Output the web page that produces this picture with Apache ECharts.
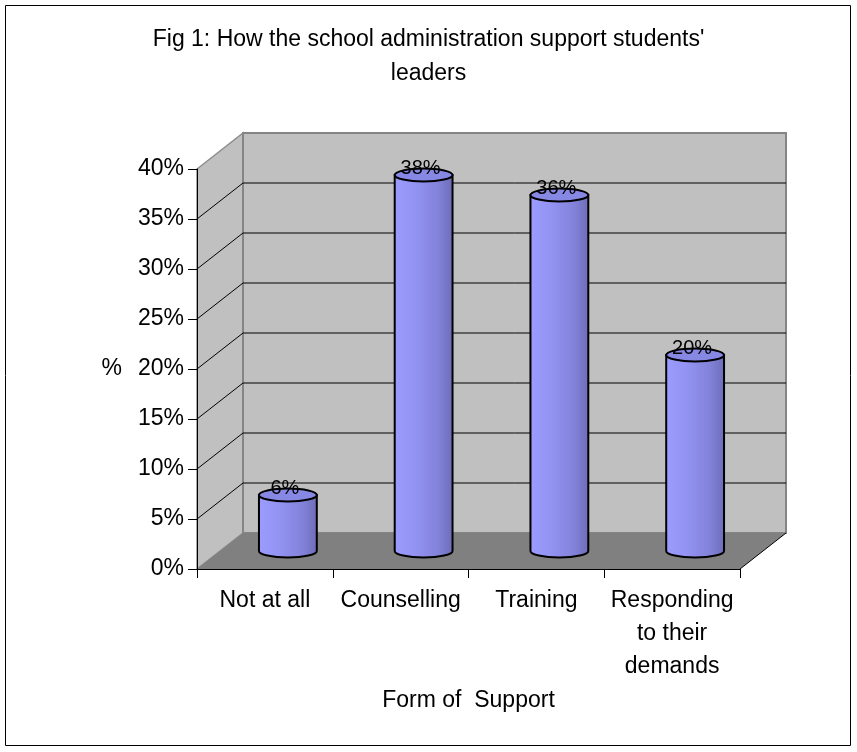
<!DOCTYPE html>
<html><head><meta charset="utf-8">
<script src="https://cdn.jsdelivr.net/npm/echarts@6/dist/echarts.min.js"></script>
<style>html,body{margin:0;padding:0;background:#fff}#c{width:857px;height:752px}</style>
</head><body><div id="c"></div>
<script>
// ---- data ----
const titleText = "Fig 1: How the school administration support students'\nleaders";
const categories = ['Not at all', 'Counselling', 'Training', 'Responding\nto their\ndemands'];
const values = [6, 38, 36, 20];
const yTicks = [0, 5, 10, 15, 20, 25, 30, 35, 40];
const xName = 'Form of  Support';
const yName = '%';

// ---- style ----
const FONT = 'Liberation Sans, Arial, sans-serif';
const DX = 46, DY = -36;   // 3D depth offset (pixels)
const yMin = yTicks[0], yMax = yTicks[yTicks.length - 1], yStep = yTicks[1] - yTicks[0];

const chart = echarts.init(document.getElementById('c'), null, {renderer: 'canvas'});

function renderWalls(params, api) {
  const n = categories.length;
  const bw = api.size([1, 0])[0];
  const x0 = api.coord([0, yMin])[0] - bw / 2;
  const x1 = api.coord([n - 1, yMin])[0] + bw / 2;
  const yb = api.coord([0, yMin])[1];
  const yt = api.coord([0, yMax])[1];
  const children = [
    {type: 'polygon', shape: {points: [[x0, yb], [x0 + DX, yb + DY], [x0 + DX, yt + DY], [x0, yt]]},
      style: {fill: '#c0c0c0', stroke: '#8c8c8c', lineWidth: 1.5}},
    {type: 'polygon', shape: {points: [[x0 + DX, yt + DY], [x1 + DX, yt + DY], [x1 + DX, yb + DY], [x0 + DX, yb + DY]]},
      style: {fill: '#c0c0c0', stroke: '#858585', lineWidth: 2}},
    {type: 'polygon', shape: {points: [[x0, yb], [x1, yb], [x1 + DX, yb + DY], [x0 + DX, yb + DY]]},
      style: {fill: '#808080', stroke: 'none'}},
    {type: 'line', shape: {x1: x1, y1: yb, x2: x1 + DX, y2: yb + DY}, style: {stroke: '#000', lineWidth: 1}}
  ];
  yTicks.slice(1, -1).forEach(function (t) {
    const y = api.coord([0, t])[1];
    children.push({type: 'line', shape: {x1: x0 + DX, y1: y + DY, x2: x1 + DX, y2: y + DY}, style: {stroke: '#000', lineWidth: 1}});
    children.push({type: 'line', shape: {x1: x0, y1: y, x2: x0 + DX, y2: y + DY}, style: {stroke: '#000', lineWidth: 1}});
  });
  return {type: 'group', children: children};
}

function renderBar(params, api) {
  const i = api.value(0), v = api.value(1);
  const bw = api.size([1, 0])[0];
  const base = api.coord([i, yMin]);
  const top = api.coord([i, v]);
  const cx = base[0] + DX / 2;
  const yBase = base[1] + DY / 2;
  const yTop = top[1] + DY / 2 + 4;
  const rx = bw * 0.213, ry = 6.5;
  const body = 'M' + (cx - rx) + ',' + yTop + ' L' + (cx - rx) + ',' + yBase +
    ' A' + rx + ',' + ry + ' 0 0 0 ' + (cx + rx) + ',' + yBase + ' L' + (cx + rx) + ',' + yTop + ' Z';
  return {type: 'group', children: [
    {type: 'path', shape: {pathData: body},
      style: {fill: {type: 'linear', x: 0, y: 0, x2: 1, y2: 0, colorStops: [
        {offset: 0, color: '#9c9cff'}, {offset: 0.35, color: '#9393f3'},
        {offset: 0.75, color: '#8282da'}, {offset: 1, color: '#6c6cb6'}]},
        stroke: '#000', lineWidth: 2}},
    {type: 'ellipse', shape: {cx: cx, cy: yTop, rx: rx, ry: ry},
      style: {fill: '#8787e4', stroke: '#000', lineWidth: 2}},
    {type: 'text', style: {text: v + '%', x: cx - 3, y: yTop - 7, align: 'center', verticalAlign: 'middle',
      font: '20px ' + FONT, fill: '#000'}}
  ]};
}

const option = {
  animation: false,
  backgroundColor: '#ffffff',
  title: {text: titleText, left: 'center', top: 18,
    textStyle: {fontFamily: FONT, fontSize: 23, fontWeight: 'normal', color: '#000', lineHeight: 34}},
  grid: {left: 197, top: 169, right: 117, bottom: 183, containLabel: false},
  xAxis: {
    type: 'category', data: categories, z: 5,
    axisLine: {lineStyle: {color: '#000', width: 1}},
    axisTick: {show: true, length: 9, lineStyle: {color: '#000'}},
    axisLabel: {interval: 0, fontFamily: FONT, fontSize: 23, lineHeight: 33, color: '#000', margin: 15},
    name: xName, nameLocation: 'middle', nameGap: 120,
    nameTextStyle: {fontFamily: FONT, fontSize: 23, color: '#000'}
  },
  yAxis: {
    type: 'value', min: yMin, max: yMax, interval: yStep, z: 5,
    axisLine: {show: true, lineStyle: {color: '#000', width: 1}},
    axisTick: {show: true, length: 9, lineStyle: {color: '#000'}},
    axisLabel: {formatter: '{value}%', margin: 13, fontFamily: FONT, fontSize: 23, color: '#000'},
    splitLine: {show: false},
    name: yName, nameLocation: 'middle', nameRotate: 0, nameGap: 75,
    nameTextStyle: {fontFamily: FONT, fontSize: 23, color: '#000'}
  },
  graphic: [{type: 'rect', silent: true, z: -10, shape: {x: 5.5, y: 5.5, width: 845, height: 740},
    style: {fill: 'none', stroke: '#000', lineWidth: 1}}],
  series: [
    {type: 'custom', z: 1, clip: false, silent: true, renderItem: renderWalls, data: [[0, 0]]},
    {type: 'custom', z: 3, clip: false, renderItem: renderBar,
      data: values.map(function (v, i) { return [i, v]; })}
  ]
};
chart.setOption(option);
</script></body></html>
